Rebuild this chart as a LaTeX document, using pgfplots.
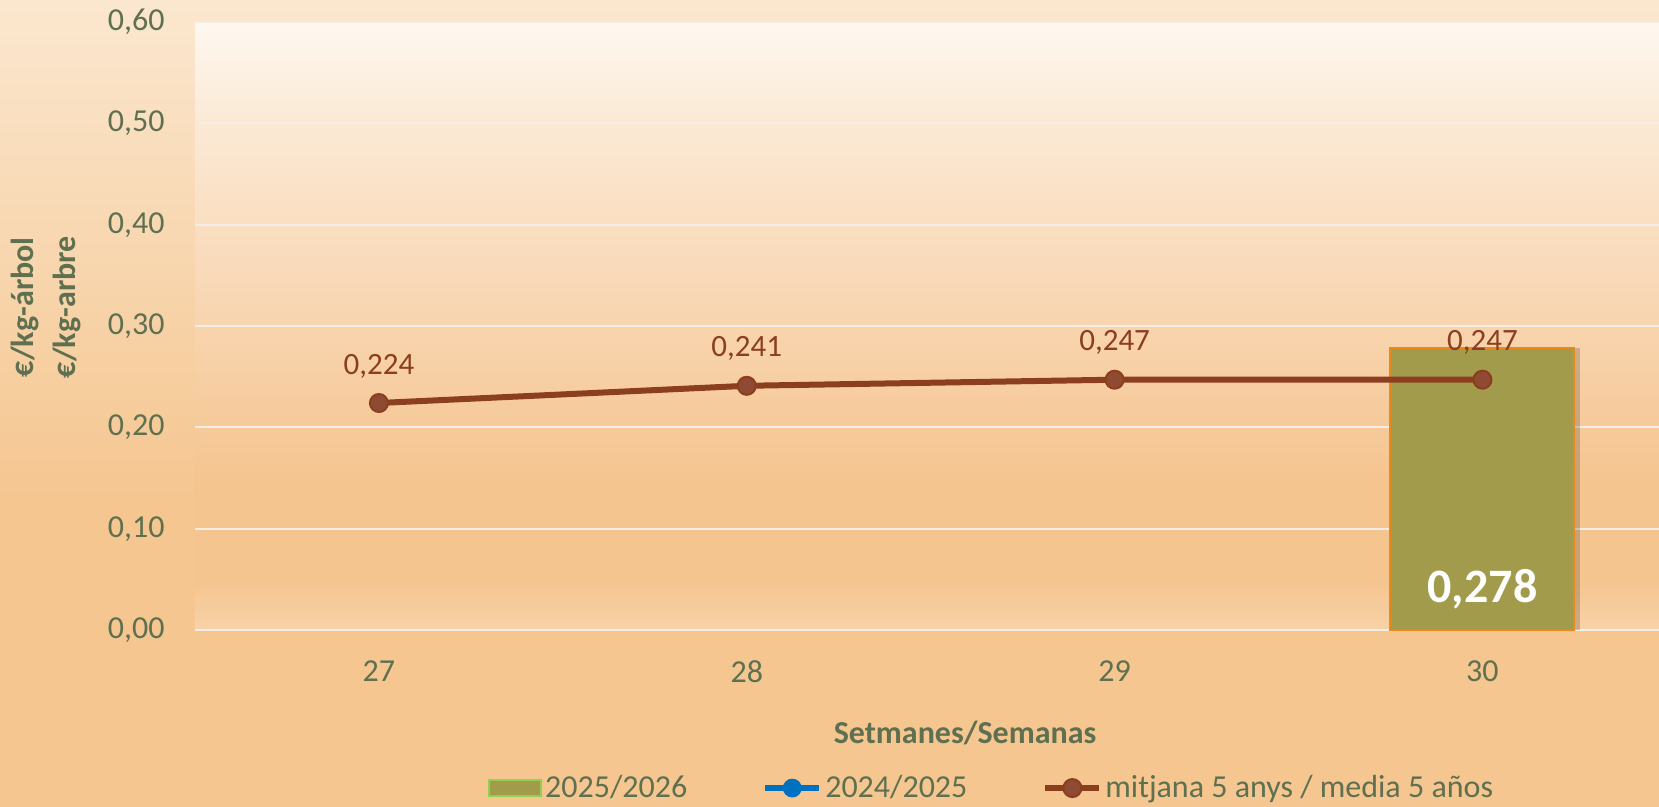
\documentclass[border=0pt]{standalone}
\usepackage{fontspec}
\setmainfont{Carlito}
\usepackage{pgfplots}
\pgfplotsset{compat=1.18}
\definecolor{txt}{HTML}{5E7050}
\definecolor{brn}{HTML}{8C3F1F}
\definecolor{mk}{HTML}{8E4A33}
\definecolor{barf}{HTML}{A39B4C}
\definecolor{barb}{HTML}{E8891B}
\definecolor{gridc}{HTML}{F2EEE6}
\definecolor{lblue}{HTML}{0070C0}
\definecolor{lgreen}{HTML}{92D050}
\definecolor{bgtop}{HTML}{FBE7CF}
\definecolor{bgbot}{HTML}{F5C690}
\definecolor{pa}{HTML}{F7D2A8}
\definecolor{pb}{HTML}{F5C590}
\definecolor{pc}{HTML}{F8D4AE}
\definecolor{pd}{HTML}{FBE9D5}
\definecolor{pe}{HTML}{FEF8F0}
\pgfdeclareverticalshading{chartbg}{100bp}{color(0bp)=(bgbot); color(25bp)=(bgbot); color(44bp)=(bgbot); color(75bp)=(bgtop); color(100bp)=(bgtop)}
\pgfdeclareverticalshading{plotbg}{100bp}{color(0bp)=(pa); color(25bp)=(pa); color(29bp)=(pb); color(37.5bp)=(pb); color(50bp)=(pc); color(66.7bp)=(pd); color(75bp)=(pe); color(100bp)=(pe)}
\begin{document}
\begin{tikzpicture}
\path[use as bounding box] (-97.5pt,-88.5pt) rectangle (732pt,315pt);
\shade[shading=chartbg] (-97.5pt,-88.5pt) rectangle (732pt,315pt);
\begin{axis}[
  at={(0pt,0pt)}, anchor=south west,
  scale only axis, width=732pt, height=304pt,
  xmin=-0.5, xmax=3.48, ymin=0, ymax=0.6,
  xtick={0,1,2,3}, xticklabels={27,28,29,30},
  ytick={0,0.1,0.2,0.3,0.4,0.5,0.6},
  major tick length=0pt,
  axis line style={draw=none},
  ymajorgrids, grid style={color=gridc, line width=1pt},
  axis background/.style={shading=plotbg},
  /pgf/number format/assume math mode=true,
  yticklabel={\pgfmathprintnumber[fixed,fixed zerofill,precision=2,use comma]{\tick}},
  yticklabel style={font=\fontsize{16}{19}\selectfont, text=txt, inner sep=0pt, xshift=-15pt},
  xticklabel style={font=\fontsize{16}{19}\selectfont, text=txt, inner sep=0pt, yshift=-15pt},
  xlabel={Setmanes/Semanas},
  xlabel style={font=\fontsize{16}{19}\selectfont\bfseries, text=txt, at={(axis description cs:0.526,-0.169)}, anchor=center},
  ylabel={€/kg-árbol\\€/kg-arbre},
  ylabel style={font=\fontsize{16}{21}\selectfont\bfseries, text=txt, align=center, at={(axis description cs:-0.1018,0.531)}, anchor=center},
  legend columns=3,
  legend style={at={(axis description cs:0.5445,-0.26)}, anchor=center, draw=none, fill=none,
    font=\fontsize{16}{19}\selectfont, text=txt,
    nodes={inner xsep=1.5pt},
    /tikz/every even column/.append style={column sep=36pt},
    /tikz/every odd column/.append style={column sep=0pt}},
  clip=false,
]
% bar shadow
\addplot[ybar, bar width=92pt, bar shift=3pt, fill=black, draw=none, opacity=0.18, forget plot] coordinates {(3,0.278)};
\addplot[ybar, bar width=92pt, bar shift=0pt, fill=barf, draw=barb, line width=1pt,
  legend image code/.code={\draw[fill=barf, draw=lgreen, line width=1pt] (0pt,-4pt) rectangle (26pt,4pt);}]
  coordinates {(3,0.278)};
\addlegendentry{2025/2026}
\addlegendimage{legend image code/.code={\draw[lblue, line width=3pt] (0pt,0pt) -- (27pt,0pt); \fill[lblue] (13.5pt,0pt) circle (4.5pt);}}
\addlegendentry{2024/2025}
\addplot[brn, line width=3pt, mark=*, mark size=4.5pt, mark options={fill=mk, draw=brn, line width=1pt},
  point meta=y,
  nodes near coords={\pgfmathprintnumber[fixed,fixed zerofill,precision=3,use comma]{\pgfplotspointmeta}},
  every node near coord/.style={anchor=center, yshift=18.5pt, font=\fontsize{15.5}{18}\selectfont, text=brn},
  legend image code/.code={\draw[brn, line width=3pt] (0pt,0pt) -- (27pt,0pt); \fill[mk, draw=brn, line width=1pt] (13.5pt,0pt) circle (4.5pt);}]
  coordinates {(0,0.224) (1,0.241) (2,0.247) (3,0.247)};
\addlegendentry{mitjana 5 anys / media 5 años}
% bar value label
\addplot[draw=none, mark=none, forget plot,
  nodes near coords={0,278},
  every node near coord/.style={anchor=center, font=\fontsize{24}{28}\selectfont\bfseries, text=white}]
  coordinates {(3,0.0405)};
\end{axis}
\end{tikzpicture}
\end{document}
